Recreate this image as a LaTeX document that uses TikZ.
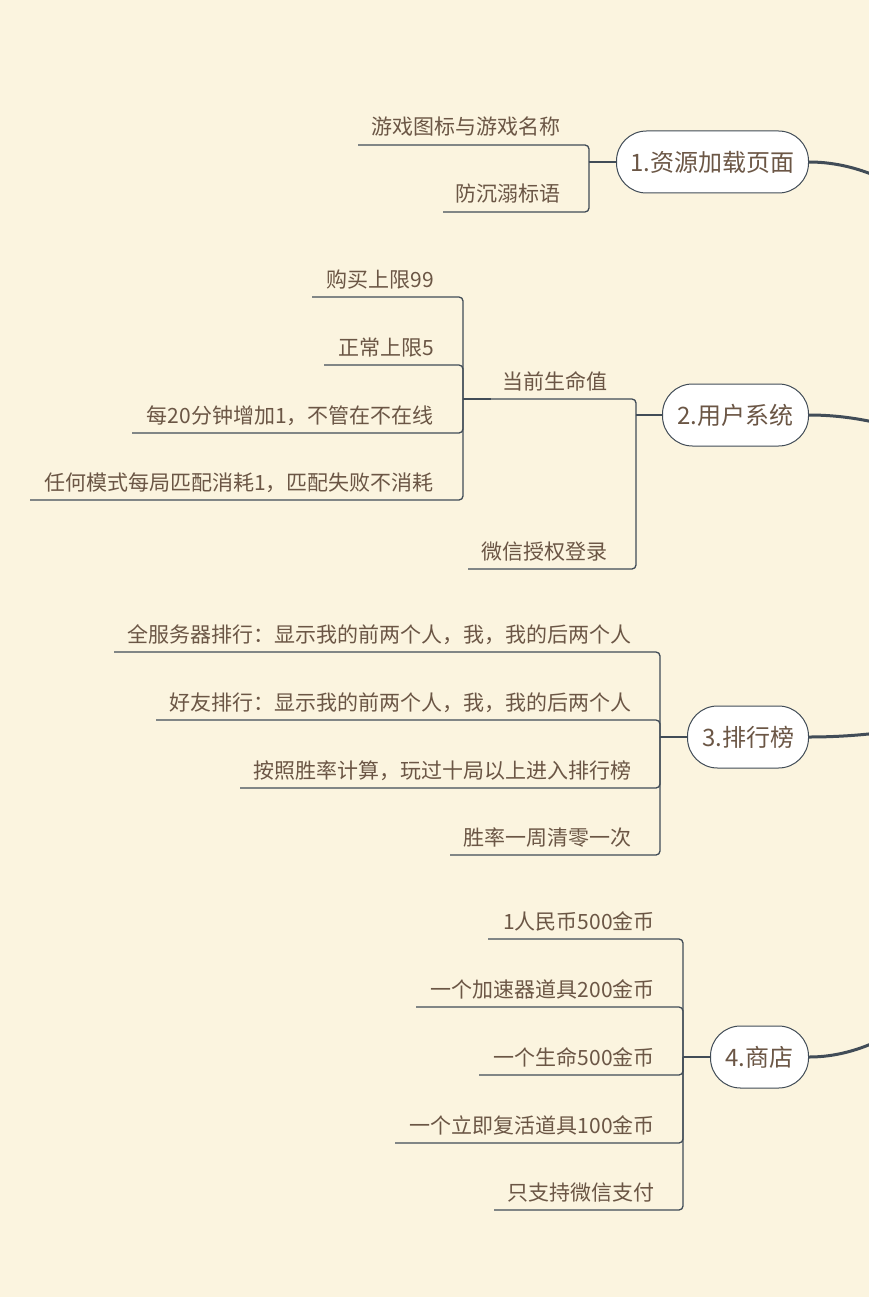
\documentclass[tikz,border=0pt]{standalone}
\usepackage{fontspec}
\setmainfont{Noto Sans CJK SC}
\definecolor{bg}{HTML}{FBF4DF}
\definecolor{txt}{HTML}{6B5645}
\definecolor{linec}{HTML}{414C57}
\tikzset{
  topic/.style={draw=linec, line width=1pt, fill=white, rounded corners=30pt, minimum height=62pt, inner xsep=2pt, text=txt, font=\fontsize{24}{28}\selectfont, anchor=east},
  leaf/.style={text=txt, font=\fontsize{21}{25}\selectfont, anchor=base east, inner sep=0pt},
  branch/.style={draw=linec, line width=1.3pt, rounded corners=4pt},
  conn/.style={draw=linec, line width=1.6pt},
  mainline/.style={draw=linec, line width=3pt},
}
\begin{document}
\begin{tikzpicture}[x=1pt,y=-1pt]
\useasboundingbox (0,0) rectangle (869,1297);
\fill[bg] (0,0) rectangle (869,1297);
\clip (0,0) rectangle (869,1297);

% main topics
\node[topic, minimum width=192pt] (n1) at (809,162) {1.资源加载页面};
\node[topic, minimum width=146pt] (n2) at (809,415) {2.用户系统};
\node[topic, minimum width=121pt] (n3) at (809,737) {3.排行榜};
\node[topic, minimum width=98pt] (n4) at (809,1057) {4.商店};

% curves to the (unseen) central topic
\coordinate (e1) at (930,207.5);
\coordinate (e2) at (930,439.8);
\coordinate (e3) at (930,724.6);
\coordinate (e4) at (930,1007.4);
\draw[mainline] (n1.east) .. controls +(40,0) and +(-40,-30.3) .. (e1);
\draw[mainline] (n2.east) .. controls +(40,0) and +(-40,-16.5) .. (e2);
\draw[mainline] (n3.east) .. controls +(40,0) and +(-40,8.3) .. (e3);
\draw[mainline] (n4.east) .. controls +(40,0) and +(-40,33.1) .. (e4);

% ---- topic 1
\draw[conn] (n1.west) -- ++(-27,0) coordinate (b1);
\node[leaf] (t11) at (561,135) {游戏图标与游戏名称};
\node[leaf] (t12) at (561,202) {防沉溺标语};
\coordinate (a11) at (358,145);
\coordinate (a12) at (443,212);
\draw[branch] (b1) |- (a11);
\draw[branch] (b1) |- (a12);

% ---- topic 2
\draw[conn] (n2.west) -- ++(-26,0) coordinate (b2);
\node[leaf] (t21) at (608,389) {当前生命值};
\node[leaf] (t22) at (608,559) {微信授权登录};
\coordinate (a21) at (463,399);
\coordinate (a22) at (468,569);
\draw[branch] (b2) |- (a21);
\draw[branch] (b2) |- (a22);

% children of 当前生命值
\draw[conn] (a21) -- ++(28,0);
\node[leaf] (t211) at (434,287) {购买上限99};
\node[leaf] (t212) at (434,355) {正常上限5};
\node[leaf] (t213) at (434,423) {每20分钟增加1，不管在不在线};
\node[leaf] (t214) at (434,490) {任何模式每局匹配消耗1，匹配失败不消耗};
\coordinate (a211) at (312,297);
\coordinate (a212) at (324,365);
\coordinate (a213) at (132,433);
\coordinate (a214) at (30,500);
\draw[branch] (a21) |- (a211);
\draw[branch] (a21) |- (a212);
\draw[branch] (a21) |- (a213);
\draw[branch] (a21) |- (a214);

% ---- topic 3
\draw[conn] (n3.west) -- ++(-27,0) coordinate (b3);
\node[leaf] (t31) at (632,642) {全服务器排行：显示我的前两个人，我，我的后两个人};
\node[leaf] (t32) at (632,710) {好友排行：显示我的前两个人，我，我的后两个人};
\node[leaf] (t33) at (632,778) {按照胜率计算，玩过十局以上进入排行榜};
\node[leaf] (t34) at (632,845) {胜率一周清零一次};
\coordinate (a31) at (114,652);
\coordinate (a32) at (156,720);
\coordinate (a33) at (240,788);
\coordinate (a34) at (450,855);
\draw[branch] (b3) |- (a31);
\draw[branch] (b3) |- (a32);
\draw[branch] (b3) |- (a33);
\draw[branch] (b3) |- (a34);

% ---- topic 4
\draw[conn] (n4.west) -- ++(-27,0) coordinate (b4);
\node[leaf] (t41) at (655,929) {1人民币500金币};
\node[leaf] (t42) at (655,997) {一个加速器道具200金币};
\node[leaf] (t43) at (655,1065) {一个生命500金币};
\node[leaf] (t44) at (655,1133) {一个立即复活道具100金币};
\node[leaf] (t45) at (655,1200) {只支持微信支付};
\coordinate (a41) at (488,939);
\coordinate (a42) at (416,1007);
\coordinate (a43) at (479,1075);
\coordinate (a44) at (395,1143);
\coordinate (a45) at (494,1210);
\draw[branch] (b4) |- (a41);
\draw[branch] (b4) |- (a42);
\draw[branch] (b4) |- (a43);
\draw[branch] (b4) |- (a44);
\draw[branch] (b4) |- (a45);
\end{tikzpicture}
\end{document}
